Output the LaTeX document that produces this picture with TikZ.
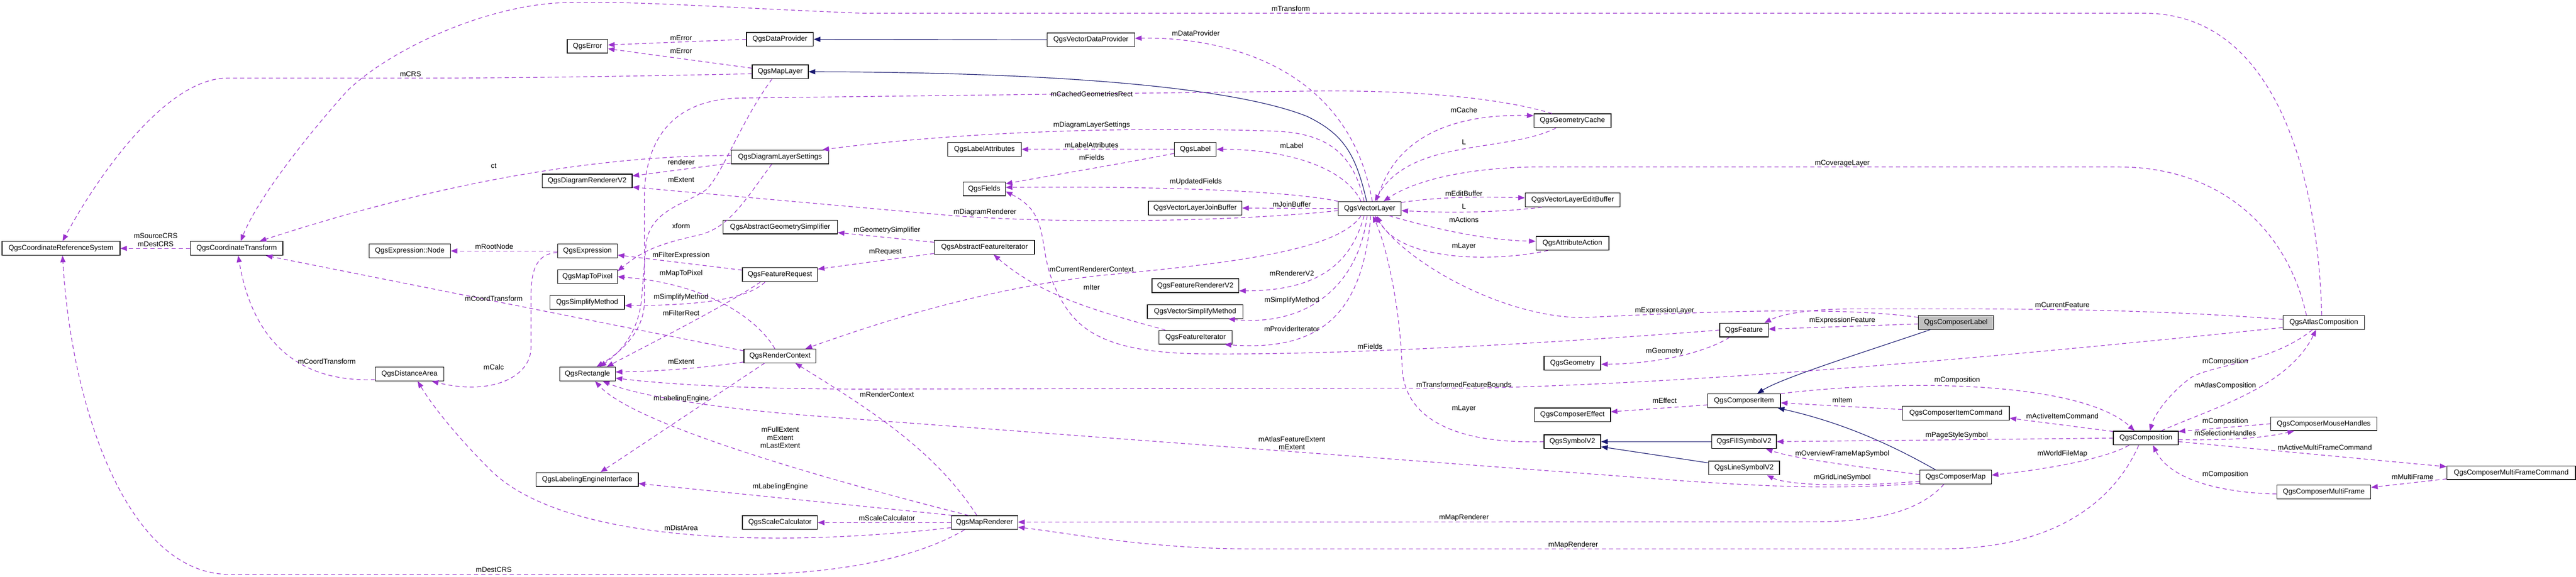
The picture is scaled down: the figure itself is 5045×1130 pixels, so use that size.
\documentclass[tikz,border=0pt]{standalone}
\usepackage{fontspec}
\setmainfont{Liberation Sans}
\usetikzlibrary{arrows.meta}
\definecolor{depc}{HTML}{9A32CD}
\definecolor{inhc}{HTML}{191970}
\definecolor{selc}{HTML}{BFBFBF}
\begin{document}
\begin{tikzpicture}[x=1pt,y=-1pt,
  box/.style={draw=black, line width=1.3pt, fill=white, minimum height=27pt, inner sep=0pt, font=\fontsize{14}{16}\selectfont},
  dep/.style={draw=depc, line width=1.2pt, dash pattern=on 8pt off 6pt, -{Triangle[length=13pt,width=10pt]}},
  inh/.style={draw=inhc, line width=1.2pt, -{Triangle[length=13pt,width=10pt]}},
  lbl/.style={font=\fontsize{14}{15.5}\selectfont, align=center, inner sep=0pt}]
\fill[white] (0,0) rectangle (5045,1130);
\useasboundingbox (0,0) rectangle (5045,1130);

% ---------- nodes ----------
\node[box, minimum width=231pt] (crs) at (119.5,486.5) {QgsCoordinateReferenceSystem};
\node[box, minimum width=181pt] (ct) at (463.5,486.5) {QgsCoordinateTransform};
\node[box, minimum width=159pt] (exprnode) at (802.5,491.5) {QgsExpression::Node};
\node[box, minimum width=134pt] (distarea) at (802,732.5) {QgsDistanceArea};
\node[box, minimum width=79pt] (error) at (1150.5,90.5) {QgsError};
\node[box, minimum width=131pt] (dataprov) at (1527.5,77) {QgsDataProvider};
\node[box, minimum width=110pt] (maplayer) at (1528,140.5) {QgsMapLayer};
\node[box, minimum width=191pt] (dls) at (1527.5,307.5) {QgsDiagramLayerSettings};
\node[box, minimum width=176pt] (drv2) at (1150,354.5) {QgsDiagramRendererV2};
\node[box, minimum width=224pt] (ags) at (1528,444.5) {QgsAbstractGeometrySimplifier};
\node[box, minimum width=117pt] (expr) at (1150.5,491.5) {QgsExpression};
\node[box, minimum width=117pt] (m2p) at (1150.5,542) {QgsMapToPixel};
\node[box, minimum width=147pt] (freq) at (1527.5,538) {QgsFeatureRequest};
\node[box, minimum width=146pt] (simpm) at (1150,592.5) {QgsSimplifyMethod};
\node[box, minimum width=141pt] (rctx) at (1527.5,697) {QgsRenderContext};
\node[box, minimum width=109pt] (rect) at (1150.5,732.5) {QgsRectangle};
\node[box, minimum width=200pt] (lei) at (1150,939) {QgsLabelingEngineInterface};
\node[box, minimum width=147pt] (scalc) at (1527.5,1023.5) {QgsScaleCalculator};
\node[box, minimum width=130pt] (mrend) at (1928,1023.5) {QgsMapRenderer};
\node[box, minimum width=171pt] (vdp) at (2136.5,78) {QgsVectorDataProvider};
\node[box, minimum width=144pt] (labattr) at (1928,292.5) {QgsLabelAttributes};
\node[box, minimum width=82pt] (label) at (2341,292.5) {QgsLabel};
\node[box, minimum width=83pt] (fields) at (1927.5,370) {QgsFields};
\node[box, minimum width=183pt] (joinbuf) at (2340.5,407.5) {QgsVectorLayerJoinBuffer};
\node[box, minimum width=196pt] (afi) at (1928,484.5) {QgsAbstractFeatureIterator};
\node[box, minimum width=170pt] (frv2) at (2341,559.5) {QgsFeatureRendererV2};
\node[box, minimum width=187pt] (vsm) at (2340.5,610.5) {QgsVectorSimplifyMethod};
\node[box, minimum width=143pt] (fiter) at (2341.5,660.5) {QgsFeatureIterator};
\node[box, minimum width=123pt] (vlayer) at (2682.5,408.5) {QgsVectorLayer};
\node[box, minimum width=151pt] (gcache) at (3079.5,236.5) {QgsGeometryCache};
\node[box, minimum width=186pt] (editbuf) at (3080,391.5) {QgsVectorLayerEditBuffer};
\node[box, minimum width=143pt] (attact) at (3079.5,476.5) {QgsAttributeAction};
\node[box, minimum width=111pt] (geom) at (3079.5,711.5) {QgsGeometry};
\node[box, minimum width=149pt] (ceffect) at (3079.5,812.5) {QgsComposerEffect};
\node[box, minimum width=111pt] (symbol) at (3079.5,865) {QgsSymbolV2};
\node[box, minimum width=95pt] (feature) at (3415.5,646.5) {QgsFeature};
\node[box, minimum width=147pt, fill=selc] (clabel) at (3830.5,631.5) {QgsComposerLabel};
\node[box, minimum width=143pt] (citem) at (3415.5,785) {QgsComposerItem};
\node[box, minimum width=209pt] (icmd) at (3830.5,809) {QgsComposerItemCommand};
\node[box, minimum width=127pt] (comp) at (4202.5,858) {QgsComposition};
\node[box, minimum width=127pt] (fillsym) at (3415.5,865) {QgsFillSymbolV2};
\node[box, minimum width=139pt] (linesym) at (3415.5,916.5) {QgsLineSymbolV2};
\node[box, minimum width=140pt] (cmap) at (3830,934.5) {QgsComposerMap};
\node[box, minimum width=160pt] (atlas) at (4551,631.5) {QgsAtlasComposition};
\node[box, minimum width=208pt] (mouse) at (4551,830) {QgsComposerMouseHandles};
\node[box, minimum width=252pt] (mfcmd) at (4918,926) {QgsComposerMultiFrameCommand};
\node[box, minimum width=184pt] (mframe) at (4551,963.5) {QgsComposerMultiFrame};

% ---------- inheritance ----------
\draw[inh] (vdp.west) -- (dataprov.east);
\draw[inh] ([xshift=-6pt]vlayer.north) .. controls (2655,300) and (2630,262) .. (2560,228) .. controls (2440,180) and (2150,142) .. (maplayer.east);
\draw[inh] ([xshift=-50pt]clabel.south) .. controls (3650,690) and (3490,740) .. ([xshift=26pt]citem.north);
\draw[inh] ([xshift=-39pt]cmap.north) .. controls (3720,880) and (3620,830) .. ([xshift=-6pt]citem.south east);
\draw[inh] (fillsym.west) -- (symbol.east);
\draw[inh] ([yshift=10pt]linesym.west) -- ([yshift=-10pt]symbol.east);

% ---------- usage ----------
\draw[dep] ([yshift=-4pt]maplayer.west) .. controls (1200,150) and (1000,153) .. (800,153) -- (445,153) .. controls (330,153) and (200,330) .. ([xshift=3pt]crs.north);
\draw[dep] (dataprov.west) -- ([yshift=2.5pt]error.east);
\draw[dep] ([yshift=7pt]maplayer.west) -- ([yshift=-5pt]error.east);
\draw[dep] ([xshift=5pt]vlayer.north) .. controls (2640,120) and (2380,72) .. ([yshift=3pt]vdp.east);
\draw[dep] ([xshift=-40pt]gcache.north) .. controls (2950,195) and (2800,178) .. (2600,178) -- (1450,192) .. controls (1320,194) and (1265,270) .. (1262,380) -- (1262,590) .. controls (1262,650) and (1215,690) .. ([xshift=18pt]rect.north);
\draw[dep] ([xshift=-16pt]maplayer.south) .. controls (1450,240) and (1420,330) .. (1385,370) .. controls (1345,400) and (1272,410) .. (1265,480) -- (1257,580) .. controls (1252,650) and (1215,690) .. ([xshift=24pt]rect.north);
\draw[dep] ([yshift=3pt]dls.west) .. controls (1200,305) and (900,345) .. ([xshift=45pt]ct.north);
\draw[dep] ([yshift=-12pt]dls.west) -- ([yshift=10pt]drv2.east);
\draw[dep] ([yshift=-4pt]vlayer.west) .. controls (2400,436) and (2050,438) .. (1850,421) -- ([yshift=-12pt]drv2.east);
\draw[dep] ([xshift=-11pt]vlayer.north) .. controls (2650,300) and (2600,262) .. (2500,257) .. controls (2250,248) and (1900,255) .. ([xshift=-13pt]dls.north east);
\draw[dep] ([xshift=-16pt]dls.south) .. controls (1460,390) and (1430,445) .. (1370,460) .. controls (1290,478) and (1260,490) .. ([yshift=11pt]m2p.east);
\draw[dep] ([xshift=-17pt]vlayer.north) .. controls (2630,320) and (2500,292) .. (label.east);
\draw[dep] (label.west) -- (labattr.east);
\draw[dep] ([yshift=-8pt]label.west) .. controls (2200,320) and (2050,345) .. ([yshift=10pt]fields.east);
\draw[dep] (vlayer.north west) .. controls (2540,376) and (2300,364) .. ([yshift=3pt]fields.east);
\draw[dep] (vlayer.west) -- (joinbuf.east);
\draw[dep] (feature.west) .. controls (3000,675) and (2600,696) .. (2350,693) .. controls (2150,690) and (2100,640) .. (2065,560) .. controls (2030,480) and (2060,420) .. ([yshift=-5pt]fields.east);
\draw[dep] ([xshift=-59pt]fiter.north) .. controls (2150,610) and (2040,580) .. ([xshift=18pt]afi.south);
\draw[dep] ([yshift=10pt]afi.west) -- ([yshift=-11pt]ags.east);
\draw[dep] ([yshift=-12pt]afi.west) -- ([yshift=11pt]freq.east);
\draw[dep] ([yshift=9pt]freq.west) -- ([yshift=-8pt]expr.east);
\draw[dep] (expr.west) -- (exprnode.east);
\draw[dep] ([yshift=-3pt]expr.west) .. controls (1050,497) and (1040,530) .. (1040,580) -- (1040,680) .. controls (1040,740) and (960,775) .. ([xshift=-24pt]distarea.south east);
\draw[dep] (ct.west) -- (crs.east);
\draw[dep] ([yshift=-11pt]distarea.west) .. controls (560,750) and (490,640) .. ([xshift=3pt]ct.south);
\draw[dep] ([yshift=10pt]rctx.west) -- ([xshift=-34pt]ct.south east);
\draw[dep] ([xshift=-10pt]rctx.north) .. controls (1480,620) and (1380,555) .. (m2p.east);
\draw[dep] ([xshift=-29pt]freq.south) .. controls (1470,580) and (1400,598) .. ([yshift=-6pt]simpm.east);
\draw[dep] ([xshift=-38pt]freq.south) .. controls (1420,600) and (1260,680) .. ([xshift=38pt]rect.north);
\draw[dep] ([yshift=-12pt]rctx.west) .. controls (1380,720) and (1300,727) .. ([yshift=4pt]rect.east);
\draw[dep] ([xshift=-30pt]rctx.south) -- ([xshift=26pt]lei.north);
\draw[dep] ([xshift=3pt]mrend.north west) -- ([yshift=-8pt]lei.east);
\draw[dep] (mrend.west) -- (scalc.east);
\draw[dep] ([xshift=-15pt]mrend.north) .. controls (1830,880) and (1700,800) .. ([xshift=30pt]rctx.south);
\draw[dep] ([xshift=-31pt]mrend.north) .. controls (1700,960) and (1250,840) .. ([xshift=15pt]rect.south);
\draw[dep] ([yshift=-10pt]mrend.west) .. controls (1500,1075) and (1100,1060) .. (960,920) .. controls (900,860) and (850,800) .. ([xshift=16pt]distarea.south);
\draw[dep] ([xshift=-39pt]mrend.south) .. controls (1800,1090) and (1650,1125) .. (1450,1125) -- (450,1125) .. controls (250,1125) and (140,800) .. ([xshift=3pt]crs.south);
\draw[dep] ([xshift=-4pt]atlas.north) .. controls (4540,350) and (4460,26) .. (4200,26) -- (1690,26) .. controls (1400,14) and (1250,2) .. (1111,5) .. controls (950,8) and (760,100) .. (680,178) .. controls (580,290) and (500,400) .. ([xshift=8pt]ct.north);
\draw[dep] ([xshift=-17pt]vlayer.south) .. controls (2620,490) and (2420,515) .. (2150,540) .. controls (1900,570) and (1700,640) .. ([xshift=50pt]rctx.north);
\draw[dep] ([xshift=-11pt]vlayer.south) .. controls (2650,500) and (2600,570) .. ([yshift=-10pt]frv2.east);
\draw[dep] ([xshift=-5pt]vlayer.south) .. controls (2660,560) and (2560,640) .. ([xshift=65pt]vsm.south);
\draw[dep] ([xshift=2pt]vlayer.south) .. controls (2670,600) and (2600,690) .. ([xshift=57pt]fiter.south);
\draw[dep] ([xshift=14pt]vlayer.north) .. controls (2720,300) and (2800,222) .. ([yshift=10pt]gcache.west);
\draw[dep] ([xshift=-32pt]gcache.south) .. controls (2950,300) and (2760,270) .. ([xshift=10pt]vlayer.north);
\draw[dep] ([xshift=-34pt]atlas.north) .. controls (4480,450) and (4350,327) .. (4150,327) -- (3000,327) .. controls (2850,330) and (2760,360) .. ([xshift=27pt]vlayer.north);
\draw[dep] ([yshift=12pt]vlayer.east) .. controls (2820,385) and (2900,385) .. ([yshift=4pt]editbuf.west);
\draw[dep] ([xshift=-60pt]editbuf.south) .. controls (2950,415) and (2850,418) .. ([yshift=-4pt]vlayer.east);
\draw[dep] ([xshift=38pt]vlayer.south) .. controls (2800,445) and (2900,470) .. ([yshift=4pt]attact.west);
\draw[dep] ([xshift=-48pt]attact.south) .. controls (2920,515) and (2740,510) .. ([xshift=14pt]vlayer.south);
\draw[dep] (symbol.west) .. controls (2850,870) and (2750,820) .. (2746,720) .. controls (2742,600) and (2715,480) .. ([xshift=6pt]vlayer.south);
\draw[dep] ([yshift=10pt]clabel.west) .. controls (3600,600) and (3350,610) .. (3100,622) .. controls (2950,622) and (2760,520) .. ([xshift=10pt]vlayer.south);
\draw[dep] ([yshift=-3pt]clabel.west) -- ([yshift=2pt]feature.east);
\draw[dep] ([yshift=6pt]atlas.west) .. controls (4300,612) and (4100,605) .. (3850,605) -- (3620,605) .. controls (3540,606) and (3490,615) .. ([xshift=40pt]feature.north);
\draw[dep] ([xshift=-28pt]feature.south) .. controls (3340,690) and (3250,712) .. ([yshift=-2pt]geom.east);
\draw[dep] ([yshift=-10pt]atlas.west) .. controls (4000,690) and (3400,748) .. (2900,760) -- (1700,762) .. controls (1450,762) and (1300,752) .. ([yshift=-8pt]rect.east);
\draw[dep] ([yshift=-8pt]citem.west) -- ([yshift=6pt]ceffect.east);
\draw[dep] (citem.north east) .. controls (3750,740) and (4080,750) .. ([xshift=-22pt]comp.north);
\draw[dep] ([yshift=7pt]icmd.west) -- ([yshift=-4pt]citem.east);
\draw[dep] ([yshift=13pt]comp.west) -- ([yshift=-10pt]icmd.east);
\draw[dep] (comp.west) -- (fillsym.east);
\draw[dep] ([xshift=-33pt]comp.south) .. controls (4120,900) and (4000,920) .. ([yshift=4pt]cmap.east);
\draw[dep] ([xshift=-14pt]comp.south) .. controls (4150,960) and (4050,1075) .. (3800,1075) -- (2450,1075) .. controls (2250,1075) and (2100,1045) .. ([yshift=-9pt]mrend.east);
\draw[dep] ([xshift=-23pt]cmap.south) .. controls (3760,1000) and (3680,1022) .. (3550,1022) -- ([yshift=1pt]mrend.east);
\draw[dep] ([yshift=5pt]cmap.west) .. controls (3650,915) and (3520,900) .. ([xshift=43pt]fillsym.south);
\draw[dep] ([yshift=-8pt]cmap.west) .. controls (3620,955) and (3500,950) .. ([xshift=45pt]linesym.south);
\draw[dep] ([yshift=-12pt]cmap.west) .. controls (3600,960) and (3450,952) .. (3300,942) -- (1600,815) .. controls (1400,800) and (1250,775) .. ([xshift=30pt]rect.south);
\draw[dep] ([xshift=30pt]comp.north) .. controls (4330,800) and (4480,760) .. ([xshift=-15pt]atlas.south);
\draw[dep] ([xshift=-22pt]atlas.south) .. controls (4450,710) and (4330,715) .. (4290,740) .. controls (4250,770) and (4220,810) .. ([xshift=8pt]comp.north);
\draw[dep] (mouse.west) -- ([yshift=13pt]comp.east);
\draw[dep] ([yshift=-3pt]comp.east) .. controls (4380,863) and (4440,856) .. ([xshift=-58pt]mouse.south);
\draw[dep] ([yshift=-7pt]comp.east) -- ([yshift=12pt]mfcmd.west);
\draw[dep] ([yshift=-12pt]mfcmd.west) -- ([yshift=9pt]mframe.east);
\draw[dep] ([yshift=-4pt]mframe.west) .. controls (4350,965) and (4250,940) .. ([xshift=14pt]comp.south);

% ---------- labels ----------
\node[lbl] (l1) at (804,145) {mCRS};
\node[lbl] (l2) at (305,470) {mSourceCRS\\mDestCRS};
\node[lbl] (l3) at (2528,17) {mTransform};
\node[lbl] (l4) at (1334,74) {mError};
\node[lbl] (l5) at (1334,100) {mError};
\node[lbl] (l6) at (640,708) {mCoordTransform};
\node[lbl] (l7) at (967,585) {mCoordTransform};
\node[lbl] (l8) at (967,325) {ct};
\node[lbl] (l9) at (1334,317) {renderer};
\node[lbl] (l10) at (1334,352) {mExtent};
\node[lbl] (l11) at (1334,442) {xform};
\node[lbl] (l12) at (968,483) {mRootNode};
\node[lbl] (l13) at (1334,500) {mFilterExpression};
\node[lbl] (l14) at (1334,536) {mMapToPixel};
\node[lbl] (l15) at (1334,582) {mSimplifyMethod};
\node[lbl] (l16) at (1334,613) {mFilterRect};
\node[lbl] (l17) at (967,719) {mCalc};
\node[lbl] (l18) at (1334,708) {mExtent};
\node[lbl] (l19) at (1334,781) {mLabelingEngine};
\node[lbl] (l20) at (1528,857) {mFullExtent\\mExtent\\mLastExtent};
\node[lbl] (l21) at (1528,953) {mLabelingEngine};
\node[lbl] (l22) at (1737,1015) {mScaleCalculator};
\node[lbl] (l23) at (1334,1034) {mDistArea};
\node[lbl] (l24) at (967,1116) {mDestCRS};
\node[lbl] (l25) at (1737,772) {mRenderContext};
\node[lbl] (l26) at (2342,65) {mDataProvider};
\node[lbl] (l27) at (2138,184) {mCachedGeometriesRect};
\node[lbl] (l28) at (2138,245) {mDiagramLayerSettings};
\node[lbl] (l29) at (2138,284) {mLabelAttributes};
\node[lbl] (l30) at (2138,308) {mFields};
\node[lbl] (l31) at (2530,285) {mLabel};
\node[lbl] (l32) at (2342,356) {mUpdatedFields};
\node[lbl] (l33) at (2530,400) {mJoinBuffer};
\node[lbl] (l34) at (1929,416) {mDiagramRenderer};
\node[lbl] (l35) at (1737,451) {mGeometrySimplifier};
\node[lbl] (l36) at (1734,494) {mRequest};
\node[lbl] (l37) at (2138,527) {mCurrentRendererContext};
\node[lbl] (l38) at (2138,563) {mIter};
\node[lbl] (l39) at (2530,535) {mRendererV2};
\node[lbl] (l40) at (2530,588) {mSimplifyMethod};
\node[lbl] (l41) at (2530,644) {mProviderIterator};
\node[lbl] (l42) at (2683,679) {mFields};
\node[lbl] (l43) at (2867,215) {mCache};
\node[lbl] (l44) at (2867,278) {L};
\node[lbl] (l45) at (3608,320) {mCoverageLayer};
\node[lbl] (l46) at (2867,379) {mEditBuffer};
\node[lbl] (l47) at (2867,404) {L};
\node[lbl] (l48) at (2867,430) {mActions};
\node[lbl] (l49) at (2867,482) {mLayer};
\node[lbl] (l50) at (3260,608) {mExpressionLayer};
\node[lbl] (l51) at (3260,688) {mGeometry};
\node[lbl] (l52) at (2867,753) {mTransformedFeatureBounds};
\node[lbl] (l53) at (3260,785) {mEffect};
\node[lbl] (l54) at (2867,800) {mLayer};
\node[lbl] (l55) at (2530,868) {mAtlasFeatureExtent\\mExtent};
\node[lbl] (l56) at (2867,1014) {mMapRenderer};
\node[lbl] (l57) at (3081,1067) {mMapRenderer};
\node[lbl] (l58) at (3608,628) {mExpressionFeature};
\node[lbl] (l59) at (4039,597) {mCurrentFeature};
\node[lbl] (l60) at (3833,745) {mComposition};
\node[lbl] (l61) at (3608,784) {mItem};
\node[lbl] (l62) at (4039,815) {mActiveItemCommand};
\node[lbl] (l63) at (3832,853) {mPageStyleSymbol};
\node[lbl] (l64) at (3608,889) {mOverviewFrameMapSymbol};
\node[lbl] (l65) at (4039,889) {mWorldFileMap};
\node[lbl] (l66) at (3608,935) {mGridLineSymbol};
\node[lbl] (l67) at (4358,708) {mComposition};
\node[lbl] (l68) at (4358,756) {mAtlasComposition};
\node[lbl] (l69) at (4358,825) {mComposition};
\node[lbl] (l70) at (4358,848) {mSelectionHandles};
\node[lbl] (l71) at (4553,876) {mActiveMultiFrameCommand};
\node[lbl] (l72) at (4725,934) {mMultiFrame};
\node[lbl] (l73) at (4358,929) {mComposition};
\end{tikzpicture}
\end{document}
